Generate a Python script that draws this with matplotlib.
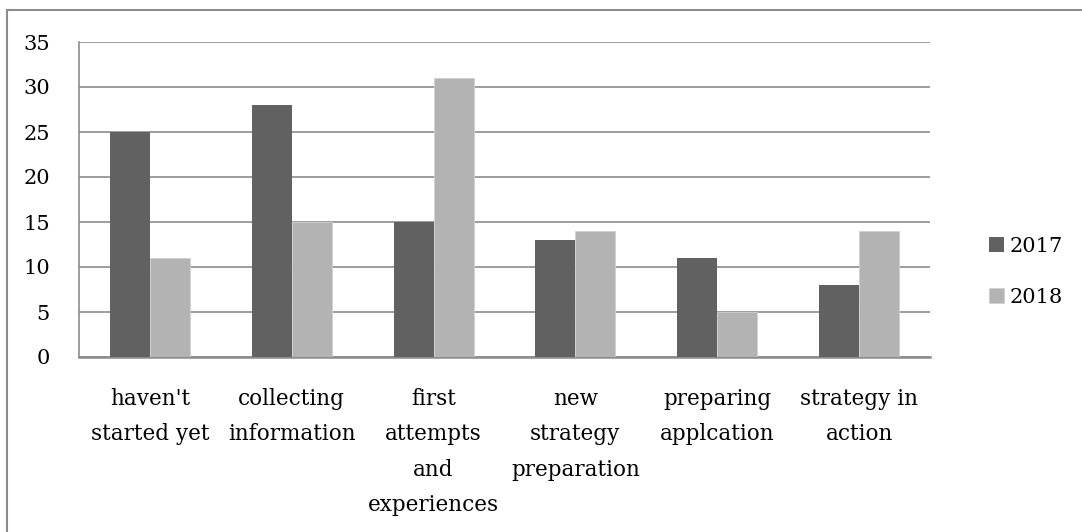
import matplotlib
matplotlib.use("Agg")
import matplotlib.pyplot as plt
import matplotlib.patches as mpatches
import numpy as np

categories = [
    "haven't\nstarted yet",
    "collecting\ninformation",
    "first\nattempts\nand\nexperiences",
    "new\nstrategy\npreparation",
    "preparing\napplcation",
    "strategy in\naction",
]
years = ["2017", "2018"]
values_2017 = [25, 28, 15, 13, 11, 8]
values_2018 = [11, 15, 31, 14, 5, 14]

DARK = "#616161"
LIGHT = "#b3b3b3"
GRID = "#8c8c8c"
FS = 15

plt.rcParams["font.family"] = ["DejaVu Serif"]

W, H = 1082, 532
fig = plt.figure(figsize=(W / 100, H / 100), dpi=100)
ax = fig.add_axes([79 / W, 1 - 357 / H, (930 - 79) / W, (357 - 42) / H])

x = np.arange(len(categories))
bw = 0.282
ax.bar(x - bw / 2, values_2017, bw, color=DARK, label=years[0], zorder=3)
ax.bar(x + bw / 2, values_2018, bw, color=LIGHT, edgecolor="#d0d0d0",
       linewidth=0.6, label=years[1], zorder=3)

ax.set_xlim(-0.5, len(categories) - 0.5)
ax.set_ylim(0, 35)
ax.set_yticks(range(0, 36, 5))
ax.yaxis.grid(True, color=GRID, linewidth=1.2, zorder=0)
ax.set_axisbelow(True)
for side in ("top", "right"):
    ax.spines[side].set_visible(False)
ax.spines["left"].set_color(GRID)
ax.spines["left"].set_linewidth(1.2)
ax.spines["bottom"].set_color(GRID)
ax.spines["bottom"].set_linewidth(1.8)
ax.tick_params(axis="both", length=0, labelsize=FS, colors="black")
ax.tick_params(axis="y", pad=21)
ax.tick_params(axis="x", pad=22)
ax.set_xticks(x)
ax.set_xticklabels(categories, linespacing=1.8, va="top", fontsize=15.5)

ax.legend(loc="upper left", bbox_to_anchor=(1.057, 0.415), frameon=False,
          fontsize=FS, handlelength=0.72, handleheight=0.72,
          handletextpad=0.25, labelspacing=1.55, borderpad=0)

# chart area frame
fig.patches.append(mpatches.Rectangle(
    (7 / W, -0.1), 1.2, 1 - 10 / H + 0.1, transform=fig.transFigure,
    fill=False, edgecolor=GRID, linewidth=1.5))

fig.savefig("out.png", dpi=100, facecolor="white")
